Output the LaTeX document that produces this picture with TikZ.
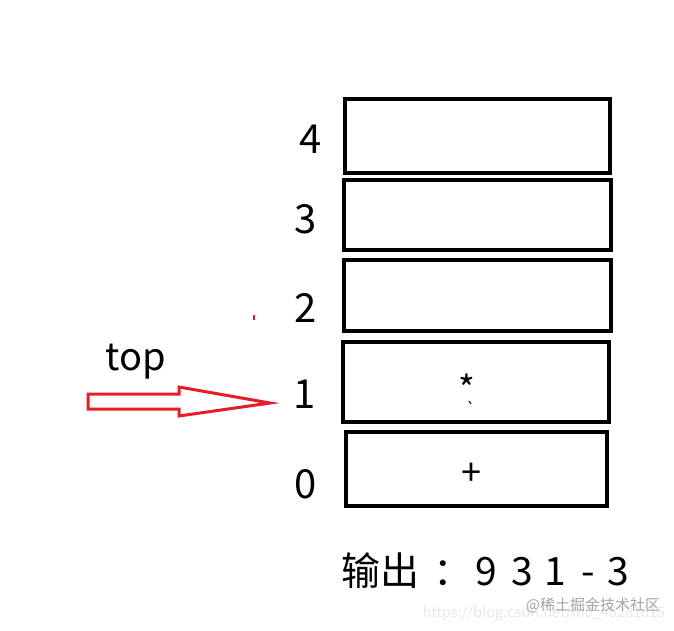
\documentclass[tikz,border=0pt]{standalone}
\usepackage{fontspec}
\setmainfont{Noto Sans CJK SC}
\begin{document}
\begin{tikzpicture}[x=1pt,y=-1pt,
  cell/.style={draw=black,line width=4.5pt},
  idx/.style={anchor=base,font=\fontsize{40}{40}\selectfont},
  big/.style={anchor=base,font=\fontsize{39}{39}\selectfont},
  sym/.style={font=\fontsize{36}{36}\selectfont},
  redarrow/.style={draw={rgb,255:red,228;green,30;blue,40},line width=3pt,line join=miter}]
\useasboundingbox[fill=white] (0,0) rectangle (674,630);
% stack cells
\draw[cell] (345,99) rectangle (610,173) coordinate (c4);
\draw[cell] (344,180) rectangle (611,250) coordinate (c3);
\draw[cell] (344,260) rectangle (611,331) coordinate (c2);
\draw[cell] (343,342) rectangle (609,422) coordinate (c1);
\draw[cell] (346,432) rectangle (607,506) coordinate (c0);
% indices
\node[idx] (i4) at (311,153) {4};
\node[idx] (i3) at (306,233) {3};
\node[idx] (i2) at (306,322) {2};
\node[idx] (i1) at (305,408) {1};
\node[idx] (i0) at (306,498) {0};
% contents
\node[sym] (star) at (467,388) {*};
\draw[line width=1pt] (469,401) -- (471,404);
\node[sym] (plus) at (471,474) {+};
% top label and arrow
\node[anchor=base,font=\fontsize{38}{38}\selectfont] (top) at (136,370) {top};
\draw[redarrow] (88,394) -- (179,394) -- (179,387) -- (270,403) -- (179,416) -- (179,409) -- (88,409) -- cycle;
\draw[draw={rgb,255:red,200;green,30;blue,40},line width=1.5pt] (254,315) -- (254,320);
% output
\node[big] (o1) at (380,585) {输出};
\node[big] (o2) at (453,585) {：};
\node[big] (o3) at (486,585) {9};
\node[big] (o4) at (522,585) {3};
\node[big] (o5) at (555,585) {1};
\node[big] (o6) at (588,585) {-};
\node[big] (o7) at (618,585) {3};
% watermarks
\node[anchor=base,inner sep=0pt,text={rgb,255:red,232;green,232;blue,232},font=\fontsize{14.5}{14.5}\selectfont] (wm1) at (544,617) {https://blog.csdn.net/m0\_46281615};
\node[anchor=base,inner sep=0pt,text={rgb,255:red,165;green,165;blue,165},font=\fontsize{15}{15}\selectfont] (wm2) at (593,610) {@稀土掘金技术社区};
\end{tikzpicture}
\end{document}
